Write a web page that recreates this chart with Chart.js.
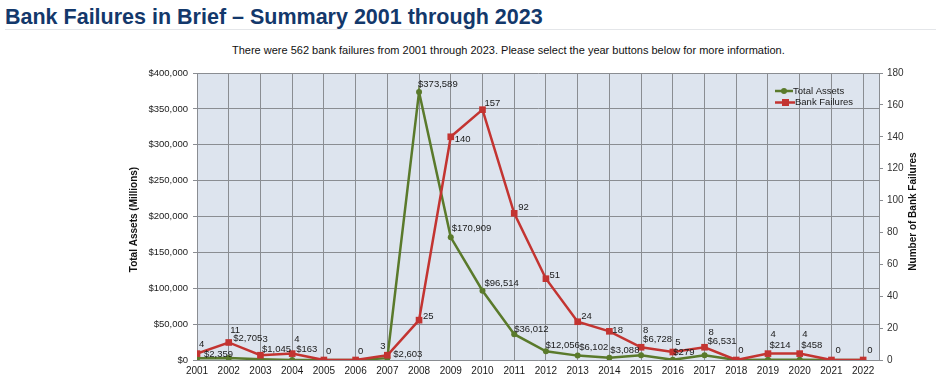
<!DOCTYPE html>
<html>
<head>
<meta charset="utf-8">
<script src="https://cdn.jsdelivr.net/npm/chart.js@4/dist/chart.umd.min.js"></script>
<style>
  html, body { margin: 0; padding: 0; background: #ffffff; width: 936px; height: 384px; overflow: hidden; }
  body { position: relative; font-family: "Liberation Sans", Arial, sans-serif; }
  #title { position: absolute; left: 5px; top: 4px; font-size: 21.5px; line-height: 26px; font-weight: bold; color: #13386b; white-space: nowrap; }
  #rule { position: absolute; left: 5px; right: 0; top: 29px; height: 1px; background: #e4e6e9; }
  #sub { position: absolute; left: 232px; top: 44px; font-size: 11px; line-height: 13px; color: #111; white-space: nowrap; }
  #wrap { position: absolute; left: 0; top: 60px; width: 936px; height: 324px; }
</style>
</head>
<body>
<div id="title">Bank Failures in Brief – Summary 2001 through 2023</div>
<div id="rule"></div>
<div id="sub">There were 562 bank failures from 2001 through 2023. Please select the year buttons below for more information.</div>
<div id="wrap"><canvas id="c" width="936" height="324"></canvas></div>
<script>
// ---- data ----
const years = [2001, 2002, 2003, 2004, 2005, 2006, 2007, 2008, 2009, 2010, 2011, 2012, 2013, 2014, 2015, 2016, 2017, 2018, 2019, 2020, 2021, 2022];
const totalAssets = [2359, 2705, 1045, 163, 0, 0, 2603, 373589, 170909, 96514, 36012, 12056, 6102, 3088, 6728, 279, 6531, 0, 214, 458, 0, 0];
const bankFailures = [4, 11, 3, 4, 0, 0, 3, 25, 140, 157, 92, 51, 24, 18, 8, 5, 8, 0, 4, 4, 0, 0];
const seriesNames = ["Total Assets", "Bank Failures"];

// ---- label layout (offsets from each point, pixels) ----
const failLabelOffsets = [[2,-9],[1.5,-12.5],[2,-16],[2,-14.6],[2,-9],[2.5,-9],[-7,-8.5],[4,-3.4],[4,3],[2,-6.4],[4,-5.6],[3.5,-3.7],[3.6,-5],[3,-1.3],[2,-17],[2.5,-10],[4,-15],[2,-10],[2.5,-19.6],[2.5,-19.6],[4,-10],[4,-10]];
const assetLabelOffsets = [[7,-4],[4.5,-19.5],[1.5,-10.2],[4,-10.5],[0,0],[0,0],[6,-3.8],[-1,-7.7],[1,-9],[2,-7.4],[0,-5.2],[-0.5,-6.3],[1.5,-8],[1,-7.8],[2,-16],[0.5,-7.8],[3,-13.6],[0,0],[1.5,-14.5],[1.5,-14.5],[0,0],[0,0]];

const FONT = '"Liberation Sans", Arial, sans-serif';
const FS = 9.5;
const GREEN = '#5a7a2b';
const RED = '#c33431';
const GRID = '#8a8d92';

const fmtMoney = v => '$' + Number(v).toLocaleString('en-US');

const bgPlugin = {
  id: 'plotBg',
  beforeDraw(chart) {
    const a = chart.chartArea, ctx = chart.ctx;
    ctx.save();
    ctx.fillStyle = '#dde4ee';
    ctx.fillRect(a.left, a.top, a.right - a.left, a.bottom - a.top);
    ctx.restore();
  }
};

const decoPlugin = {
  id: 'deco',
  afterDraw(chart) {
    const ctx = chart.ctx;
    const x = chart.scales.x, yL = chart.scales.y, yR = chart.scales.y2;
    ctx.save();
    // data labels
    ctx.font = FS + 'px ' + FONT;
    ctx.fillStyle = '#1a1a1a';
    ctx.textAlign = 'left';
    ctx.textBaseline = 'middle';
    years.forEach((yr, i) => {
      const px = x.getPixelForValue(yr);
      const pyF = yR.getPixelForValue(bankFailures[i]);
      const oF = failLabelOffsets[i];
      ctx.fillText(String(bankFailures[i]), px + oF[0], pyF + oF[1]);
      if (totalAssets[i] > 0) {
        const pyA = yL.getPixelForValue(totalAssets[i]);
        const oA = assetLabelOffsets[i];
        ctx.fillText(fmtMoney(totalAssets[i]), px + oA[0], pyA + oA[1]);
      }
    });
    // axis titles
    ctx.font = 'bold 10px ' + FONT;
    ctx.fillStyle = '#111';
    ctx.textAlign = 'center';
    ctx.save();
    ctx.translate(134, (yL.top + yL.bottom) / 2 + 3);
    ctx.rotate(-Math.PI / 2);
    ctx.fillText('Total Assets (Millions)', 0, 0);
    ctx.restore();
    ctx.save();
    ctx.translate(913, (yR.top + yR.bottom) / 2 - 5);
    ctx.rotate(-Math.PI / 2);
    ctx.fillText('Number of Bank Failures', 0, 0);
    ctx.restore();
    // legend
    const lx = 775, ly1 = 31, ly2 = 42.5;
    ctx.lineWidth = 2.5;
    ctx.strokeStyle = GREEN;
    ctx.beginPath(); ctx.moveTo(lx, ly1); ctx.lineTo(lx + 18, ly1); ctx.stroke();
    ctx.fillStyle = GREEN;
    ctx.beginPath(); ctx.arc(lx + 9, ly1, 3, 0, Math.PI * 2); ctx.fill();
    ctx.strokeStyle = RED;
    ctx.beginPath(); ctx.moveTo(lx, ly2); ctx.lineTo(lx + 20, ly2); ctx.stroke();
    ctx.fillStyle = RED;
    ctx.fillRect(lx + 7, ly2 - 3.5, 7, 7);
    ctx.font = FS + 'px ' + FONT;
    ctx.fillStyle = '#1a1a1a';
    ctx.textAlign = 'left';
    ctx.fillText(seriesNames[0], lx + 18, ly1);
    ctx.fillText(seriesNames[1], lx + 20, ly2);
    ctx.restore();
  }
};

new Chart(document.getElementById('c'), {
  type: 'line',
  data: {
    datasets: [
      {
        label: seriesNames[0],
        data: years.map((yr, i) => ({ x: yr, y: totalAssets[i] })),
        yAxisID: 'y',
        borderColor: GREEN,
        backgroundColor: GREEN,
        borderWidth: 2.5,
        pointStyle: 'circle',
        pointRadius: 3,
        pointBorderWidth: 0,
        tension: 0,
        order: 1
      },
      {
        label: seriesNames[1],
        data: years.map((yr, i) => ({ x: yr, y: bankFailures[i] })),
        yAxisID: 'y2',
        borderColor: RED,
        backgroundColor: RED,
        borderWidth: 2.5,
        pointStyle: 'rect',
        pointRadius: 4.7,
        pointBorderWidth: 0,
        tension: 0,
        order: 0
      }
    ]
  },
  options: {
    responsive: false,
    animation: false,
    devicePixelRatio: 1,
    layout: { padding: { top: 13, left: 0, right: 0, bottom: 0 } },
    plugins: { legend: { display: false }, tooltip: { enabled: false } },
    scales: {
      x: {
        type: 'linear',
        min: 2001,
        max: 2022.5,
        afterBuildTicks(scale) { scale.ticks = years.map(v => ({ value: v })); },
        afterFit(scale) { scale.height = 24; },
        ticks: { autoSkip: false, maxRotation: 0, padding: 5, color: '#1a1a1a', font: { family: FONT, size: 10 }, callback: v => String(v) },
        grid: { color: GRID, lineWidth: 1, drawTicks: false },
        border: { display: true, color: GRID }
      },
      y: {
        position: 'left',
        min: 0, max: 400000,
        ticks: { stepSize: 50000, padding: 5, color: '#1a1a1a', font: { family: FONT, size: FS }, callback: v => fmtMoney(v) },
        grid: { color: GRID, lineWidth: 1, drawTicks: true, tickLength: 4 },
        border: { display: true, color: GRID },
        afterFit(scale) { scale.width = 197; }
      },
      y2: {
        position: 'right',
        min: 0, max: 180,
        ticks: { stepSize: 20, padding: 4, color: '#333', font: { family: FONT, size: 10 } },
        grid: { drawOnChartArea: false, color: GRID, drawTicks: true, tickLength: 4 },
        border: { display: true, color: GRID },
        afterFit(scale) { scale.width = 57; }
      }
    }
  },
  plugins: [bgPlugin, decoPlugin]
});
</script>
</body>
</html>
